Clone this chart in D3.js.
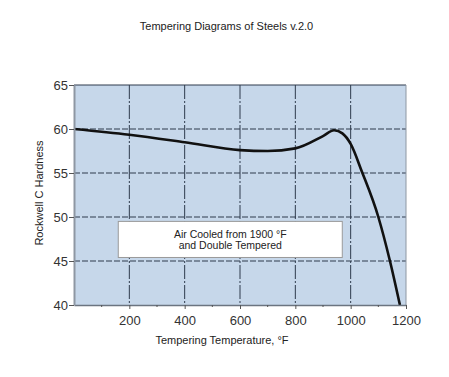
<!DOCTYPE html>
<html>
<head>
<meta charset="utf-8">
<script src="https://cdn.jsdelivr.net/npm/d3@7"></script>
<style>
  body { margin: 0; background: #fff; }
  text { font-family: Arial, "Liberation Sans", sans-serif; }
</style>
</head>
<body>
<div id="chart"></div>
<script>
// curve
var temps = [0, 200, 400, 600, 700, 800, 900, 940, 970, 1000, 1040, 1100, 1142, 1178];
var hardness = [60, 59.35, 58.5, 57.6, 57.5, 57.8, 59.2, 59.85, 59.5, 58.3, 55.2, 50, 45, 40];
var xTicks = [200, 400, 600, 800, 1000, 1200];
var xMinor = [100, 300, 500, 700, 900, 1100];
var yTicks = [40, 45, 50, 55, 60, 65];
var noteLines = ["Air Cooled from 1900 °F", "and Double Tempered"];

var W = 449, H = 377;
var margin = {top: 85, right: 43, bottom: 72, left: 74},
    width = W - margin.left - margin.right,
    height = H - margin.top - margin.bottom;

var root = d3.select("#chart").append("svg")
    .attr("width", W).attr("height", H);

root.append("text")
    .attr("x", W / 2 + 2).attr("y", 30)
    .attr("text-anchor", "middle")
    .style("font-size", "11px").style("fill", "#222")
    .text("Tempering Diagrams of Steels v.2.0");

var svg = root.append("g")
    .attr("transform", "translate(" + margin.left + "," + margin.top + ")");

var x = d3.scaleLinear().domain([0, 1200]).range([0, width]);
var y = d3.scaleLinear().domain([40, 65]).range([height, 0]);

// plot background
svg.append("rect")
    .attr("width", width).attr("height", height)
    .attr("fill", "#c6d7ea");

// vertical grid
svg.selectAll(".vgrid").data(xTicks.filter(function(d){ return d < 1200; }))
  .enter().append("line")
    .attr("x1", function(d){ return x(d); }).attr("x2", function(d){ return x(d); })
    .attr("y1", 0).attr("y2", height)
    .attr("stroke", "#2e3b4c").attr("stroke-width", 1)
    .attr("stroke-dasharray", "14,2,2,2");

// horizontal grid
svg.selectAll(".hgrid").data(yTicks.filter(function(d){ return d > 40 && d < 65; }))
  .enter().append("line")
    .attr("x1", 0).attr("x2", width)
    .attr("y1", function(d){ return y(d); }).attr("y2", function(d){ return y(d); })
    .attr("stroke", "#2e3b4c").attr("stroke-width", 1)
    .attr("stroke-dasharray", "6,2");

// top border
svg.append("line")
    .attr("x1", 0).attr("x2", width).attr("y1", y(65)).attr("y2", y(65))
    .attr("stroke", "#2e3b4c").attr("stroke-width", 1);
// right border
svg.append("line")
    .attr("x1", width).attr("x2", width).attr("y1", 0).attr("y2", height)
    .attr("stroke", "#8e97a3").attr("stroke-width", 1);

// note box
var bx = x(160), bw = 224, by = y(49.5), bh = y(45.4) - y(49.5);
svg.append("rect")
    .attr("x", bx).attr("y", by).attr("width", bw).attr("height", bh)
    .attr("fill", "#fff").attr("stroke", "#9a9a9a").attr("stroke-width", 1);
svg.selectAll(".note").data(noteLines).enter().append("text")
    .attr("x", bx + bw / 2)
    .attr("y", function(d, i){ return by + 17 + i * 11; })
    .attr("text-anchor", "middle")
    .style("font-size", "10.5px").style("fill", "#222")
    .text(function(d){ return d; });

// curve
var pts = temps.map(function(t, i){ return [t, hardness[i]]; });
svg.append("path")
    .datum(pts)
    .attr("fill", "none")
    .attr("stroke", "#111").attr("stroke-width", 2.6)
    .attr("d", d3.line()
      .x(function(d){ return x(d[0]); })
      .y(function(d){ return y(d[1]); })
      .curve(d3.curveMonotoneX));

// x axis
var xAxis = svg.append("g")
    .attr("transform", "translate(0," + height + ")")
    .call(d3.axisBottom(x).tickValues(xTicks).tickFormat(d3.format("d")).tickSize(4).tickSizeOuter(0));
xAxis.select(".domain").attr("stroke", "#6b7480").attr("stroke-width", 1.5);
xAxis.selectAll(".tick line").attr("stroke", "#555");
xAxis.selectAll("text").style("font-size", "13px").style("fill", "#333").attr("dy", "1.0em");
svg.append("g").selectAll("line").data(xMinor).enter().append("line")
    .attr("x1", function(d){ return x(d); }).attr("x2", function(d){ return x(d); })
    .attr("y1", height).attr("y2", height + 2)
    .attr("stroke", "#555");

// y axis
var yAxis = svg.append("g")
    .call(d3.axisLeft(y).tickValues(yTicks).tickSize(5).tickSizeOuter(0));
yAxis.select(".domain").attr("stroke", "#8e97a3").attr("stroke-width", 2);
yAxis.selectAll(".tick line").attr("stroke", "#555");
yAxis.selectAll("text").style("font-size", "13px").style("fill", "#333").attr("x", -6);

// axis titles
svg.append("text")
    .attr("x", width / 2 - 18).attr("y", height + 39)
    .attr("text-anchor", "middle")
    .style("font-size", "11px").style("fill", "#222")
    .text("Tempering Temperature, °F");
svg.append("text")
    .attr("transform", "rotate(-90)")
    .attr("x", -height / 2 + 2).attr("y", -31)
    .attr("text-anchor", "middle")
    .style("font-size", "11px").style("fill", "#222")
    .text("Rockwell C Hardness");
</script>
</body>
</html>
